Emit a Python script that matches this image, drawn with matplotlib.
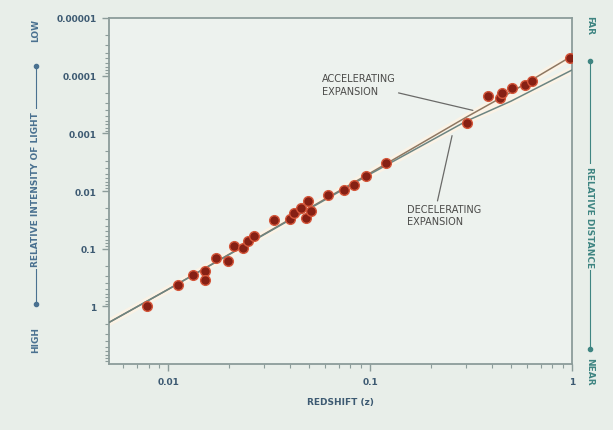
import numpy as np
import matplotlib.pyplot as plt

# supernova points
redshift = [0.0079, 0.0112, 0.0133, 0.0153, 0.0153, 0.0173, 0.0197, 0.0211,
            0.0236, 0.0250, 0.0265, 0.0333, 0.0400, 0.0419, 0.0454, 0.0492,
            0.0480, 0.0510, 0.0618, 0.0743, 0.0832, 0.0955, 0.120, 0.301,
            0.386, 0.439, 0.449, 0.502, 0.583, 0.633, 0.977]
intensity = [1.0, 0.43, 0.29, 0.247, 0.354, 0.147, 0.166, 0.091,
             0.098, 0.074, 0.061, 0.032, 0.030, 0.0243, 0.0199, 0.0150,
             0.0296, 0.0220, 0.0118, 0.0097, 0.0079, 0.0055, 0.0033, 0.000665,
             0.000226, 0.000245, 0.000200, 0.000164, 0.000146, 0.000124, 0.0000494]

# model curves
z_model = [0.005, 0.01, 0.1, 0.3, 0.5, 1.0]
accel = [1.97, 0.507, 0.0049, 0.000524, 0.000193, 0.0000457]
decel = [1.97, 0.507, 0.0051, 0.000614, 0.000276, 0.0000800]

xticks = [0.01, 0.1, 1]
xlabels = ['0.01', '0.1', '1']
yticks = [0.00001, 0.0001, 0.001, 0.01, 0.1, 1]
ylabels = ['0.00001', '0.0001', '0.001', '0.01', '0.1', '1']

bg = '#e8eee9'
axcol = '#8c9c9a'
txtcol = '#3d5a72'

fig = plt.figure(figsize=(6.13, 4.31), dpi=100)
fig.patch.set_facecolor(bg)
ax = fig.add_axes([0.178, 0.153, 0.755, 0.803])
ax.set_facecolor('#edf2ee')

ax.plot(z_model, accel, color='#fbf3e6', lw=5, solid_capstyle='butt', zorder=2)
ax.plot(z_model, decel, color='#fbf3e6', lw=5, solid_capstyle='butt', zorder=2)
ax.plot(z_model, accel, color='#8f7862', lw=1.1, zorder=3)
ax.plot(z_model, decel, color='#6c8582', lw=1.1, zorder=3)
ax.plot(redshift, intensity, 'o', ms=7, mfc='#862014', mec='#d4563a',
        mew=1.0, zorder=4)

ax.set_xscale('log')
ax.set_yscale('log')
ax.set_xlim(0.0051, 1.0)
ax.set_ylim(10, 0.00001)

ax.set_xticks(xticks)
ax.set_xticklabels(xlabels)
ax.set_yticks(yticks)
ax.set_yticklabels(ylabels)
for sp in ax.spines.values():
    sp.set_color(axcol)
    sp.set_linewidth(1.3)
ax.tick_params(which='major', direction='out', length=5, width=1, color=axcol,
               labelsize=6.5, labelcolor=txtcol, pad=4)
ax.tick_params(which='minor', direction='out', length=3, width=0.8, color=axcol)
for lab in ax.get_xticklabels() + ax.get_yticklabels():
    lab.set_fontweight('bold')

ax.set_xlabel('REDSHIFT (z)', fontsize=6.5, fontweight='bold', color=txtcol,
              labelpad=8)

# annotations
ax.annotate('ACCELERATING\nEXPANSION', xy=(0.786, 0.733), xytext=(0.46, 0.808),
            xycoords='axes fraction', textcoords='axes fraction',
            fontsize=7, color='#4a4a48', va='center', ha='left',
            linespacing=1.3,
            arrowprops=dict(arrowstyle='-', color='#6a6a68', lw=0.9,
                            shrinkA=0, shrinkB=0, relpos=(1.0, 0.15)))
ax.annotate('DECELERATING\nEXPANSION', xy=(0.741, 0.660), xytext=(0.644, 0.431),
            xycoords='axes fraction', textcoords='axes fraction',
            fontsize=7, color='#4a4a48', va='center', ha='left',
            linespacing=1.3,
            arrowprops=dict(arrowstyle='-', color='#6a6a68', lw=0.9,
                            shrinkA=0, shrinkB=0, relpos=(0.4, 1.0)))

# left side label with bar
lcol = '#4a7190'
lx = 0.058
fig.text(lx, 1 - 340 / 431, 'HIGH', rotation=90, fontsize=6.5, fontweight='bold',
         color=lcol, ha='center', va='center')
fig.text(lx, 1 - 30 / 431, 'LOW', rotation=90, fontsize=6.5, fontweight='bold',
         color=lcol, ha='center', va='center')
fig.text(lx, 1 - 190 / 431, 'RELATIVE INTENSITY OF LIGHT', rotation=90,
         fontsize=6.5, fontweight='bold', color=lcol, ha='center', va='center',
         bbox=dict(fc=bg, ec='none', pad=2), zorder=3)
fig.add_artist(plt.Line2D([lx, lx], [1 - 305 / 431, 1 - 67 / 431],
                          color=lcol, lw=0.8, marker='o', ms=3,
                          markevery=[0, 1], zorder=2))

# right side label
rcol = '#3f8582'
rx = 0.962
fig.text(rx, 1 - 25 / 431, 'FAR', rotation=-90, fontsize=6.5, fontweight='bold',
         color=rcol, ha='center', va='center')
fig.text(rx, 1 - 372 / 431, 'NEAR', rotation=-90, fontsize=6.5, fontweight='bold',
         color=rcol, ha='center', va='center')
fig.text(rx, 1 - 218 / 431, 'RELATIVE DISTANCE', rotation=-90,
         fontsize=6.5, fontweight='bold', color=rcol, ha='center', va='center',
         bbox=dict(fc=bg, ec='none', pad=2), zorder=3)
fig.add_artist(plt.Line2D([rx, rx], [1 - 350 / 431, 1 - 62 / 431],
                          color=rcol, lw=0.8, marker='o', ms=3,
                          markevery=[0, 1], zorder=2))

fig.savefig('out.png', dpi=100, facecolor=bg)
